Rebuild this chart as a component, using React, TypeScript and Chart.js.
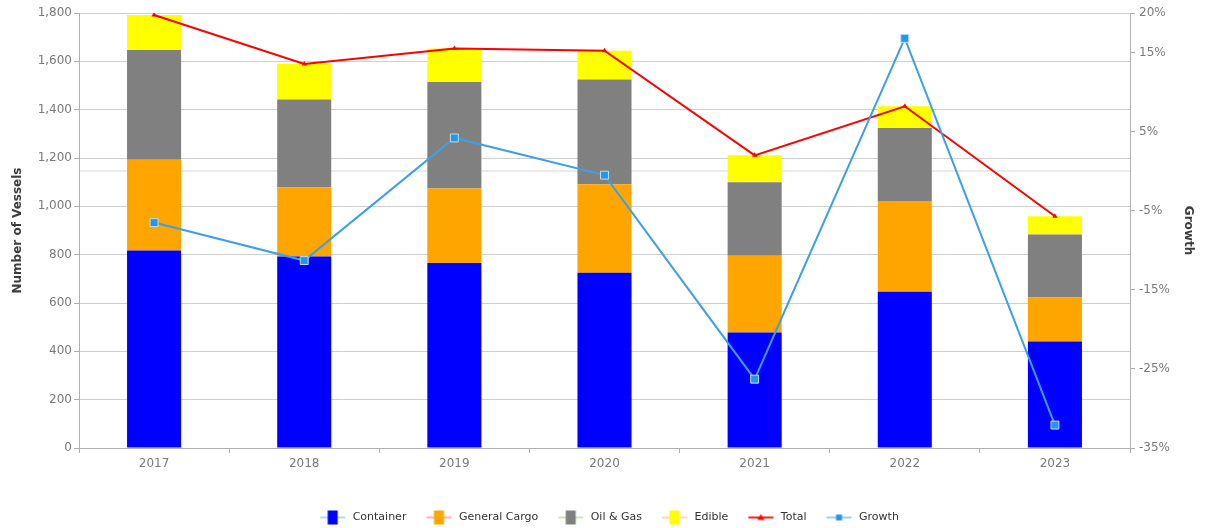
import React, { useEffect, useRef } from 'react';
import { Chart, registerables } from 'chart.js';

Chart.register(...registerables);

const years = ['2017', '2018', '2019', '2020', '2021', '2022', '2023'];
const container = [817, 792, 766, 725, 478, 647, 441];
const generalCargo = [376, 286, 308, 366, 318, 375, 182];
const oilGas = [454, 364, 441, 434, 304, 302, 260];
const edible = [145, 147, 138, 119, 111, 90, 76];
const total = [1792, 1589, 1653, 1644, 1211, 1414, 959];
const growth = [-6.5, -11.3, 4.2, -0.5, -26.3, 16.8, -32.1];
const growthTicks = [-35, -25, -15, -5, 0, 5, 15, 20];

const FONT = "'DejaVu Sans', Verdana, sans-serif";

function makeIcon(lineColor: string, marker: (ctx: CanvasRenderingContext2D, cx: number, cy: number) => void) {
  const c = document.createElement('canvas');
  c.width = 41;
  c.height = 16;
  const ctx = c.getContext('2d')!;
  ctx.strokeStyle = lineColor;
  ctx.lineWidth = 2;
  ctx.beginPath();
  ctx.moveTo(14, 8);
  ctx.lineTo(39, 8);
  ctx.stroke();
  marker(ctx, 26.5, 8);
  return c;
}

export default function App() {
  const ref = useRef<HTMLCanvasElement>(null);
  useEffect(() => {
    if (!ref.current) return;
    const rectMarker = (color: string, w: number, h: number) => (ctx: CanvasRenderingContext2D, cx: number, cy: number) => {
      ctx.fillStyle = color;
      ctx.fillRect(cx - w / 2, cy - h / 2, w, h);
    };
    const triMarker = (color: string) => (ctx: CanvasRenderingContext2D, cx: number, cy: number) => {
      ctx.fillStyle = color;
      ctx.beginPath();
      ctx.moveTo(cx, cy - 3.5);
      ctx.lineTo(cx + 3.5, cy + 2.5);
      ctx.lineTo(cx - 3.5, cy + 2.5);
      ctx.closePath();
      ctx.fill();
    };
    const icons = [
      makeIcon('#b3daf5', rectMarker('#0000ff', 10, 14)),
      makeIcon('#f5b5b5', rectMarker('#ffa500', 10, 14)),
      makeIcon('#cde4bd', rectMarker('#808080', 10, 14)),
      makeIcon('#fcd7bd', rectMarker('#ffff00', 10, 14)),
      makeIcon('#ff2020', triMarker('#ff0000')),
      makeIcon('#9fd0f3', rectMarker('#2a95e6', 6, 6)),
    ];

    const chart = new Chart(ref.current, {
      type: 'bar',
      data: {
        labels: years,
        datasets: [
          { label: 'Container', data: container, backgroundColor: '#0000ff', stack: 'vessels', yAxisID: 'y', order: 2 },
          { label: 'General Cargo', data: generalCargo, backgroundColor: '#ffa500', stack: 'vessels', yAxisID: 'y', order: 2 },
          { label: 'Oil & Gas', data: oilGas, backgroundColor: '#808080', stack: 'vessels', yAxisID: 'y', order: 2 },
          { label: 'Edible', data: edible, backgroundColor: '#ffff00', stack: 'vessels', yAxisID: 'y', order: 2 },
          {
            type: 'line', label: 'Total', data: total, stack: 'total', yAxisID: 'y', order: 1,
            borderColor: '#ff0000', backgroundColor: '#ff0000', borderWidth: 2, tension: 0,
            pointStyle: 'triangle', pointRadius: 3, pointBorderWidth: 0, pointBackgroundColor: '#ff0000',
          } as any,
          {
            type: 'line', label: 'Growth', data: growth, yAxisID: 'y1', order: 0,
            borderColor: '#3d9fe8', backgroundColor: '#2a95e6', borderWidth: 2, tension: 0,
            pointStyle: 'rect', pointRadius: 5.6, pointBorderWidth: 1, pointBorderColor: '#b9def7', pointBackgroundColor: '#2a95e6',
          } as any,
        ],
      },
      options: {
        responsive: false,
        animation: false,
        layout: { padding: { top: 13, left: 0, right: 0, bottom: -5 } },
        font: { family: FONT },
        datasets: { bar: { barPercentage: 0.36, categoryPercentage: 1 } },
        plugins: {
          tooltip: { enabled: false },
          legend: {
            position: 'bottom',
            labels: {
              usePointStyle: true,
              pointStyleWidth: 41,
              padding: 6,
              color: '#333333',
              font: { family: FONT, size: 11 },
              sort: (a: any, b: any) => a.datasetIndex - b.datasetIndex,
              generateLabels: (ch: any) => {
                const items = (Chart.defaults.plugins.legend.labels as any).generateLabels(ch);
                items.forEach((it: any) => {
                  it.pointStyle = icons[it.datasetIndex];
                  it.fontColor = '#333333';
                });
                return items;
              },
            },
          },
        },
        scales: {
          x: {
            stacked: true,
            grid: { drawOnChartArea: false, offset: true, color: '#b0b0b0', tickLength: 5 },
            border: { color: '#b0b0b0' },
            ticks: { color: '#7a7a7a', font: { family: FONT, size: 12 }, padding: 4 },
            afterFit: (s: any) => { s.height = 58; },
          },
          y: {
            stacked: true,
            position: 'left',
            min: 0,
            max: 1800,
            ticks: {
              stepSize: 200,
              color: '#7a7a7a',
              font: { family: FONT, size: 12 },
              padding: 2,
              callback: (v: any) => Number(v).toLocaleString('en-US'),
            },
            grid: { color: '#cfcfcf', tickLength: 5, tickColor: '#b0b0b0' },
            border: { color: '#b0b0b0' },
            title: {
              display: true,
              text: 'Number of Vessels',
              color: '#3c3c3c',
              font: { family: FONT, size: 12, weight: 'bold' },
              padding: { top: 11, bottom: 0 },
            },
            afterFit: (s: any) => { s.width = 79; },
          },
          y1: {
            position: 'right',
            min: -35,
            max: 20,
            afterBuildTicks: (s: any) => { s.ticks = growthTicks.map((v) => ({ value: v })); },
            ticks: {
              color: '#7a7a7a',
              font: { family: FONT, size: 12 },
              padding: 4,
              callback: (v: any) => (Number(v) === 0 ? '' : v + '%'),
            },
            grid: {
              drawOnChartArea: true,
              tickLength: 5,
              lineWidth: (c: any) => (c.tick && c.tick.value === 0 ? 2 : 1),
              color: (c: any) => (c.tick && c.tick.value === 0 ? '#ebebeb' : 'rgba(0,0,0,0)'),
              tickColor: (c: any) => (c.tick && c.tick.value === 0 ? 'rgba(0,0,0,0)' : '#b0b0b0'),
            },
            border: { color: '#b0b0b0' },
            title: {
              display: true,
              text: 'Growth',
              color: '#3c3c3c',
              font: { family: FONT, size: 12, weight: 'bold' },
              padding: { top: 10, bottom: 0 },
            },
            afterFit: (s: any) => { s.width = 75; },
          },
        },
      } as any,
    });
    return () => chart.destroy();
  }, []);

  return (
    <div style={{ position: 'absolute', left: 0, top: 0, width: 1205, height: 528, background: '#fff' }}>
      <canvas ref={ref} width={1205} height={528} style={{ display: 'block' }} />
    </div>
  );
}
